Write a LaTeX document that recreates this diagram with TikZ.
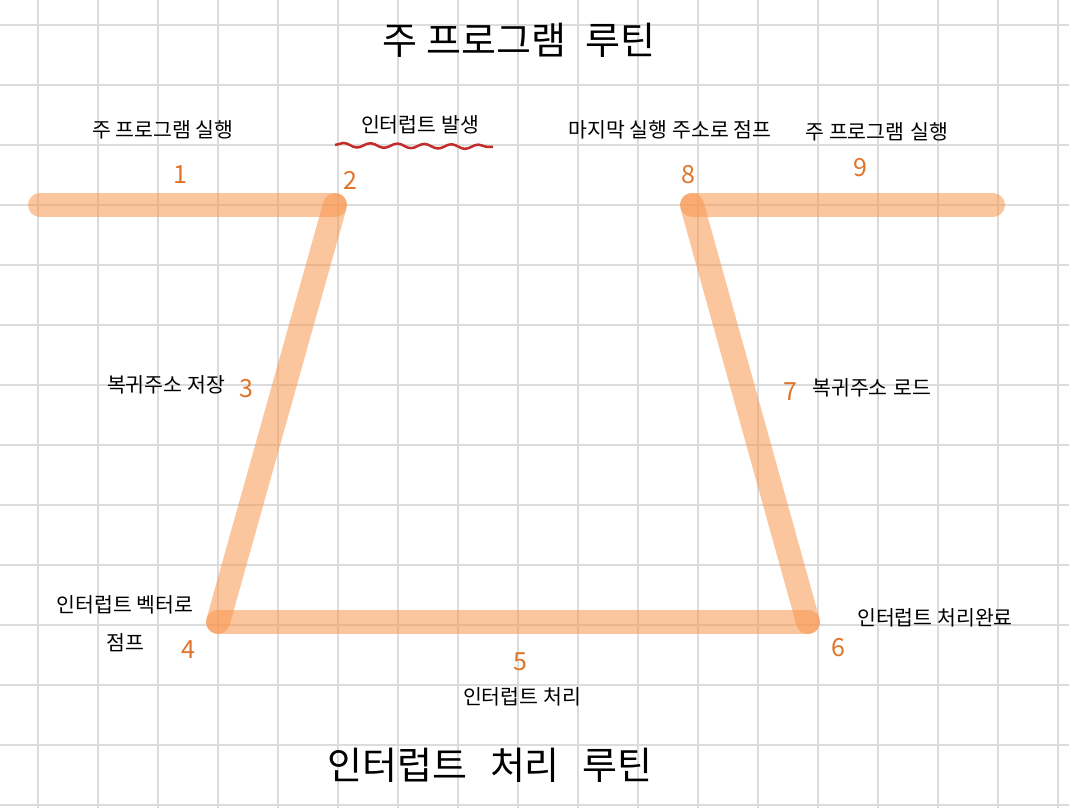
\documentclass[tikz,border=0pt]{standalone}
\usepackage{fontspec}
\newfontfamily\krfont{Noto Sans CJK KR}
\usetikzlibrary{decorations.pathmorphing}
\usepackage{xcolor}
\definecolor{gridline}{HTML}{DCDCDC}
\definecolor{barFill}{HTML}{F8974F}
\definecolor{stepNum}{HTML}{E0742A}
\definecolor{wave}{HTML}{C42B2B}
\tikzset{
  base/.style={font=\krfont, text=black},
  title/.style={base, font=\krfont\fontsize{38}{42}\selectfont},
  note/.style={base, font=\krfont\fontsize{20.5}{38}\selectfont, align=center},
  num/.style={base, font=\krfont\fontsize{25}{28}\selectfont, text=stepNum},
  flow/.style={line width=24pt, line cap=round, draw=barFill, draw opacity=0.55},
  squiggle/.style={draw=wave, line width=2.5pt, decorate, decoration={snake, amplitude=2.2pt, segment length=27pt}},
}

\begin{document}
\begin{tikzpicture}[x=1pt,y=-1pt]
  \useasboundingbox (0,0) rectangle (1069,808);
  \fill[white] (0,0) rectangle (1069,808);
  \foreach \x in {38,98,...,1058} \draw[gridline, line width=1.4pt] (\x,0) -- (\x,808);
  \foreach \y in {25,85,...,805} \draw[gridline, line width=1.4pt] (0,\y) -- (1069,\y);

  \node[title] (mainTitle) at (519,40) {주 프로그램\hspace{0.5em}루틴};
  \node[title] (isrTitle) at (490,765) {인터럽트\hspace{0.6em}처리\hspace{0.6em}루틴};

  \coordinate (p1) at (40,205);
  \coordinate (p2) at (335,205);
  \coordinate (p4) at (218,622);
  \coordinate (p6) at (808,622);
  \coordinate (p8) at (692,205);
  \coordinate (p9) at (993,205);

  \draw[flow] (p1) -- (p2);
  \draw[flow] (p2) -- (p4);
  \draw[flow] (p4) -- (p6);
  \draw[flow] (p6) -- (p8);
  \draw[flow] (p8) -- (p9);

  \node[num] (n1) at (180,175) {1};
  \node[num] (n2) at (350,180) {2};
  \node[num] (n3) at (246,389) {3};
  \node[num] (n4) at (188,650) {4};
  \node[num] (n5) at (520,662) {5};
  \node[num] (n6) at (838,648) {6};
  \node[num] (n7) at (790,392) {7};
  \node[num] (n8) at (688,175) {8};
  \node[num] (n9) at (860,168) {9};

  \node[note] (runA) at (163,130) {주 프로그램 실행};
  \node[note] (irq) at (420,125) {인터럽트 발생};
  \node[note] (jumpBack) at (670,130) {마지막 실행 주소로 점프};
  \node[note] (runB) at (877,132) {주 프로그램\hspace{0.3em}실행};
  \node[note] (save) at (166,385) {복귀주소 저장};
  \node[note] (load) at (872,388) {복귀주소\hspace{0.3em}로드};
  \node[note] (vector) at (125,624) {인터럽트 벡터로\\점프};
  \node[note] (done) at (935,618) {인터럽트 처리완료};
  \node[note] (handle) at (522,697) {인터럽트 처리};

  \coordinate (waveA) at (335,145);
  \coordinate (waveB) at (493,147);
  \draw[squiggle] (waveA) -- (waveB);
\end{tikzpicture}
\end{document}
